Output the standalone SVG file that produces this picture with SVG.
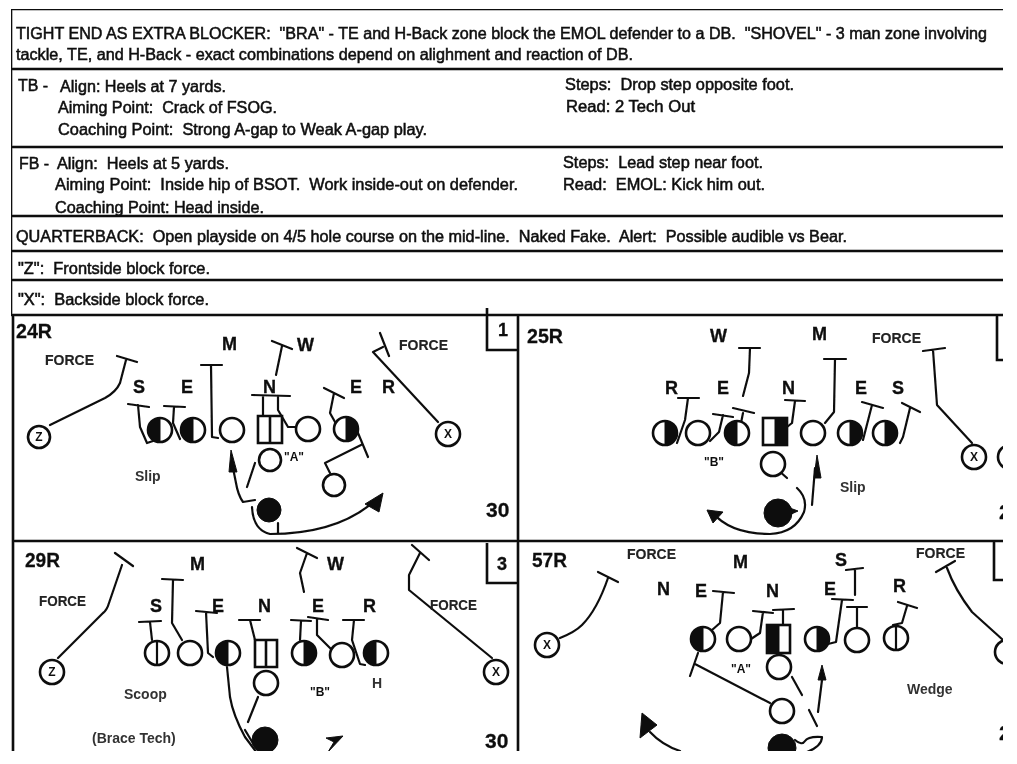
<svg xmlns="http://www.w3.org/2000/svg" xmlns:xlink="http://www.w3.org/1999/xlink" width="1017" height="764" viewBox="0 0 1017 764">
<style>
text{font-family:"Liberation Sans",Arial,sans-serif;fill:#111;white-space:pre}
.b{font-size:16.5px;stroke:#111;stroke-width:.55}
.l{font-size:18px;font-weight:bold;stroke:#111;stroke-width:.35}
.f{font-size:15px;font-weight:bold;fill:#222;stroke:#222;stroke-width:.15}
.s{font-size:14px;font-weight:bold;fill:#333}
.n{font-size:21px;font-weight:bold;stroke:#111;stroke-width:.3}
.t{font-size:12px;font-weight:bold;text-anchor:middle}
.r{fill:none;stroke:#111;stroke-width:2.2;stroke-linejoin:round;stroke-linecap:round}
.g{fill:none;stroke:#111;stroke-width:2.6}
.o{fill:#fff;stroke:#111;stroke-width:2.6}
.k{fill:#111;stroke:#111;stroke-width:1}
</style>
<defs>
<filter id="scan" x="0" y="0" width="100%" height="100%"><feGaussianBlur stdDeviation="0.5"/></filter>
<clipPath id="page"><rect x="0" y="0" width="1003" height="751"/></clipPath>
<g id="o"><circle r="12" class="o"/></g>
<g id="hl"><circle r="12" class="o"/><path d="M0-12A12 12 0 0 0 0 12Z" class="k"/></g>
<g id="hr"><circle r="12" class="o"/><path d="M0-12A12 12 0 0 1 0 12Z" class="k"/></g>
<g id="hv"><circle r="12" class="o"/><path d="M0-12V12" class="r"/></g>
</defs>
<rect width="1017" height="764" fill="#fff"/>
<g clip-path="url(#page)"><g filter="url(#scan)">
<g id="grid">
<path class="g" d="M11 9H1003M11 69H1003M11 147H1003M11 216H1003M11 251H1003M11 280H1003M11 315H1003M13 541H1003M11 9V315M13 315V751M518 315V751"/>
<path class="g" d="M487 308V350H518M997 315V360H1003M487 543V583H518M994 541V580H1003"/>
</g>
<g id="notes">
<text class="b" x="16" y="39" textLength="971" lengthAdjust="spacingAndGlyphs">TIGHT END AS EXTRA BLOCKER:  "BRA" - TE and H-Back zone block the EMOL defender to a DB.  "SHOVEL" - 3 man zone involving</text>
<text class="b" x="16" y="60" textLength="617" lengthAdjust="spacingAndGlyphs">tackle, TE, and H-Back - exact combinations depend on alighment and reaction of DB.</text>
<text class="b" x="18" y="91" textLength="30" lengthAdjust="spacingAndGlyphs">TB -</text>
<text class="b" x="60" y="92" textLength="166" lengthAdjust="spacingAndGlyphs">Align: Heels at 7 yards.</text>
<text class="b" x="58" y="113" textLength="219" lengthAdjust="spacingAndGlyphs">Aiming Point:  Crack of FSOG.</text>
<text class="b" x="58" y="135" textLength="369" lengthAdjust="spacingAndGlyphs">Coaching Point:  Strong A-gap to Weak A-gap play.</text>
<text class="b" x="565" y="90" textLength="229" lengthAdjust="spacingAndGlyphs">Steps:  Drop step opposite foot.</text>
<text class="b" x="566" y="112" textLength="129" lengthAdjust="spacingAndGlyphs">Read: 2 Tech Out</text>
<text class="b" x="19" y="169" textLength="30" lengthAdjust="spacingAndGlyphs">FB -</text>
<text class="b" x="57" y="169" textLength="172" lengthAdjust="spacingAndGlyphs">Align:  Heels at 5 yards.</text>
<text class="b" x="55" y="190" textLength="463" lengthAdjust="spacingAndGlyphs">Aiming Point:  Inside hip of BSOT.  Work inside-out on defender.</text>
<text class="b" x="55" y="213" textLength="209" lengthAdjust="spacingAndGlyphs">Coaching Point: Head inside.</text>
<text class="b" x="563" y="168" textLength="200" lengthAdjust="spacingAndGlyphs">Steps:  Lead step near foot.</text>
<text class="b" x="563" y="190" textLength="202" lengthAdjust="spacingAndGlyphs">Read:  EMOL: Kick him out.</text>
<text class="b" x="16" y="242" textLength="831" lengthAdjust="spacingAndGlyphs">QUARTERBACK:  Open playside on 4/5 hole course on the mid-line.  Naked Fake.  Alert:  Possible audible vs Bear.</text>
<text class="b" x="18" y="274" textLength="192" lengthAdjust="spacingAndGlyphs">"Z":  Frontside block force.</text>
<text class="b" x="18" y="305" textLength="191" lengthAdjust="spacingAndGlyphs">"X":  Backside block force.</text>
</g>
<g id="connectors">
<path class="r" d="M50 425L105 398Q116 392 120 383L126 360M117 356L137 362M128 404L149 407M138 405L140 427L147 443L153 441M164 406L185 407M174 407L173 423L180 439M201 365H222M211 365L212 437L218 438M252 395L290 396M263 396V416M278 397V410L288 427H296M272 341L292 349M282 346L276 375M324 388L344 398M334 393L330 413L335 422M438 422L373 352L383 347M380 333L389 356M255 463L247 487M330 473L325 463L361 445M358 433L368 457M255 500L243 502Q238 495 236 483L233 468M278 523V533M252 507Q253 530 270 534Q340 534 378 498"/>
<path class="k" d="M231 450L237 472L229 472ZM383 493L379 512L365 504Z"/>
<path class="r" d="M678 398H699M688 398L685 420L677 443M713 414L733 417M723 415L719 432L710 441M739 348H760M750 348L749 373L743 396M733 408L754 413M743 413L741 423M785 400L805 401M795 401L792 423L787 427M824 359H846M835 359L834 412L825 423M862 402L883 408M872 405L863 440M902 403L920 412M910 408L903 437L900 443M923 351L945 348M933 350L937 405L972 443M778 470L787 478M815 468L812 505M797 488Q808 498 804 512Q795 533 770 534Q730 534 712 512"/>
<path class="k" d="M817 455L821 478L814 478ZM707 510L723 512L713 523ZM787 507L798 511L787 516Z"/>
<path class="r" d="M58 658L103 613Q107 610 109 603L122 565M115 553L133 566M162 579L183 580M173 580L172 623L182 640M139 622L161 621M150 622L152 640M196 611L217 613M206 612L208 653L213 657M239 620L260 620M250 620L255 640M297 548L317 558M307 553L300 573L304 592M291 620L311 621M301 621L300 640M308 617L328 620M317 619V635L332 650M343 620L364 620M354 620L352 640L360 664L365 665M412 545L429 560M420 553L409 575V590L492 658M258 697L248 722M227 667L230 697Q233 715 245 737L257 753M245 730L254 745"/>
<path class="k" d="M343 736L326 738L334 742L328 752Z"/>
<path class="r" d="M560 638Q575 632 582 625Q597 610 608 578M598 572L618 582M713 591L734 593M723 592L720 623L712 630M753 611L773 613M763 612L760 633L751 639M773 610L794 609M783 610V625M832 599L853 600M842 600L836 642L828 644M846 570L863 568M855 569V595M847 607L867 607M857 607V627M898 602L917 608M907 606L902 623L893 625M936 572L955 561M947 568Q955 590 972 612L1003 640M792 677L802 695M770 703L695 664M698 653L690 676M822 680L818 712M809 710L817 726M795 740Q802 746 805 741T822 737Q822 746 807 752M650 732Q662 745 680 751"/>
<path class="k" d="M822 665L826 680L818 680ZM642 713L640 738L657 725Z"/>
</g>
<g id="play-24R">
<text class="n" x="16" y="338" textLength="36" lengthAdjust="spacingAndGlyphs">24R</text>
<text class="f" x="45" y="365" textLength="49" lengthAdjust="spacingAndGlyphs">FORCE</text>
<text class="f" x="399" y="350" textLength="49" lengthAdjust="spacingAndGlyphs">FORCE</text>
<text class="l" x="222" y="350">M</text><text class="l" x="297" y="351">W</text><text class="l" x="133" y="393">S</text><text class="l" x="181" y="393">E</text><text class="l" x="263" y="393">N</text><text class="l" x="350" y="393">E</text><text class="l" x="382" y="393">R</text>
<text class="s" x="135" y="481">Slip</text>
<text class="t" x="294" y="461">"A"</text>
<text class="n" x="486" y="517">30</text>
<text class="l" x="498" y="336" font-size="16">1</text>
<g id="p1-z"><circle cx="39" cy="437" r="11" class="o"/><text class="t" x="39" y="441">Z</text></g>
<g id="p1-S"><use href="#hl" x="160" y="430"/></g>
<g id="p1-E"><use href="#hl" x="193" y="430"/></g>
<g id="p1-O1"><use href="#o" x="232" y="430"/></g>
<g id="p1-C"><path d="M258 416H282V443H258ZM270 416V443" class="o" fill-rule="evenodd"/></g>
<g id="p1-O2"><use href="#o" x="308" y="429"/></g>
<g id="p1-E2"><use href="#hr" x="346" y="429"/></g>
<g id="p1-x"><circle cx="448" cy="434" r="12" class="o"/><text class="t" x="448" y="438">X</text></g>
<g id="p1-Q"><circle cx="270" cy="460" r="11" class="o"/></g>
<g id="p1-H"><circle cx="334" cy="485" r="11" class="o"/></g>
<g id="p1-T"><circle cx="269" cy="510" r="12" class="k"/></g>
</g>
<g id="play-25R">
<text class="n" x="527" y="343" textLength="36" lengthAdjust="spacingAndGlyphs">25R</text>
<text class="f" x="872" y="343" textLength="49" lengthAdjust="spacingAndGlyphs">FORCE</text>
<text class="l" x="710" y="342">W</text><text class="l" x="812" y="340">M</text><text class="l" x="665" y="394">R</text><text class="l" x="717" y="394">E</text><text class="l" x="782" y="394">N</text><text class="l" x="855" y="394">E</text><text class="l" x="892" y="394">S</text>
<text class="s" x="840" y="492">Slip</text>
<text class="t" x="714" y="466">"B"</text>
<text class="n" x="999" y="519">2</text>
<g id="p2-R"><use href="#hr" x="665" y="433"/></g>
<g id="p2-O1"><use href="#o" x="698" y="433"/></g>
<g id="p2-E"><use href="#hl" x="737" y="433"/></g>
<g id="p2-C"><rect x="763" y="418" width="24" height="27" class="o"/><rect x="775" y="418" width="12" height="27" class="k"/></g>
<g id="p2-O2"><use href="#o" x="813" y="433"/></g>
<g id="p2-E2"><use href="#hr" x="850" y="433"/></g>
<g id="p2-S"><use href="#hr" x="885" y="433"/></g>
<g id="p2-Q"><use href="#o" x="773" y="464"/></g>
<g id="p2-T"><circle cx="778" cy="513" r="14" class="k"/></g>
<g id="p2-x"><circle cx="974" cy="457" r="12" class="o"/><text class="t" x="974" y="461">X</text></g>
<g id="p2-z"><circle cx="1010" cy="457" r="12" class="o"/></g>
</g>
<g id="play-29R">
<text class="n" x="25" y="567" textLength="35" lengthAdjust="spacingAndGlyphs">29R</text>
<text class="f" x="39" y="606" textLength="47" lengthAdjust="spacingAndGlyphs">FORCE</text>
<text class="f" x="430" y="610" textLength="47" lengthAdjust="spacingAndGlyphs">FORCE</text>
<text class="l" x="190" y="570">M</text><text class="l" x="327" y="570">W</text><text class="l" x="150" y="612">S</text><text class="l" x="212" y="612">E</text><text class="l" x="258" y="612">N</text><text class="l" x="312" y="612">E</text><text class="l" x="363" y="612">R</text>
<text class="s" x="372" y="688">H</text>
<text class="s" x="124" y="699">Scoop</text>
<text class="s" x="92" y="743">(Brace Tech)</text>
<text class="t" x="320" y="696">"B"</text>
<text class="n" x="485" y="748">30</text>
<text class="l" x="497" y="570" font-size="15">3</text>
<g id="p3-S"><use href="#hv" x="157" y="653"/></g>
<g id="p3-O1"><use href="#o" x="190" y="653"/></g>
<g id="p3-E"><use href="#hl" x="228" y="653"/></g>
<g id="p3-C"><path d="M255 640H277V667H255ZM266 640V667" class="o"/></g>
<g id="p3-E2"><use href="#hr" x="304" y="653"/></g>
<g id="p3-O2"><use href="#o" x="342" y="655"/></g>
<g id="p3-R"><use href="#hl" x="376" y="653"/></g>
<g id="p3-Q"><use href="#o" x="266" y="683"/></g>
<g id="p3-T"><circle cx="265" cy="740" r="13" class="k"/></g>
<g id="p3-z"><circle cx="52" cy="672" r="12" class="o"/><text class="t" x="52" y="676">Z</text></g>
<g id="p3-x"><circle cx="496" cy="672" r="12" class="o"/><text class="t" x="496" y="676">X</text></g>
</g>
<g id="play-57R">
<text class="n" x="532" y="567" textLength="35" lengthAdjust="spacingAndGlyphs">57R</text>
<text class="f" x="627" y="559" textLength="49" lengthAdjust="spacingAndGlyphs">FORCE</text>
<text class="f" x="916" y="558" textLength="49" lengthAdjust="spacingAndGlyphs">FORCE</text>
<text class="l" x="733" y="568">M</text><text class="l" x="835" y="566">S</text><text class="l" x="657" y="595">N</text><text class="l" x="695" y="597">E</text><text class="l" x="766" y="597">N</text><text class="l" x="824" y="595">E</text><text class="l" x="893" y="592">R</text>
<text class="s" x="907" y="694">Wedge</text>
<text class="t" x="741" y="673">"A"</text>
<text class="n" x="999" y="740">2</text>
<g id="p4-x"><circle cx="547" cy="645" r="12" class="o"/><text class="t" x="547" y="649">X</text></g>
<g id="p4-E"><use href="#hl" x="703" y="639"/></g>
<g id="p4-O1"><use href="#o" x="739" y="639"/></g>
<g id="p4-C"><rect x="767" y="625" width="23" height="28" class="o"/><rect x="767" y="625" width="12" height="28" class="k"/></g>
<g id="p4-E2"><use href="#hr" x="817" y="639"/></g>
<g id="p4-O2"><use href="#o" x="857" y="640"/></g>
<g id="p4-R"><use href="#hv" x="896" y="638"/></g>
<g id="p4-Q"><use href="#o" x="779" y="667"/></g>
<g id="p4-H"><use href="#o" x="782" y="711"/></g>
<g id="p4-T"><circle cx="782" cy="748" r="14" class="k"/></g>
<g id="p4-z"><circle cx="1007" cy="652" r="12" class="o"/></g>
</g>
</g></g>
</svg>
